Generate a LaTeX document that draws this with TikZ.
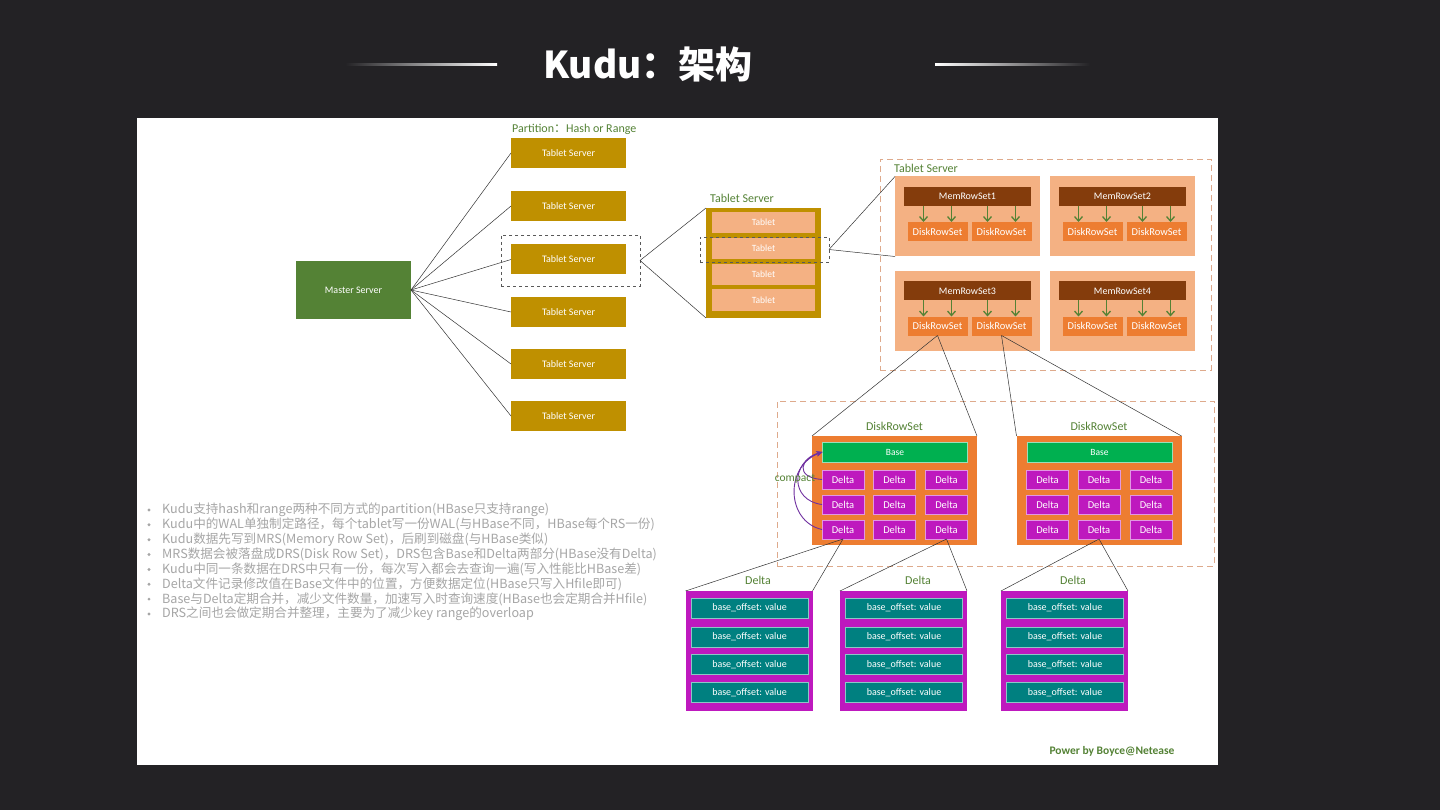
\documentclass[tikz,border=0pt]{standalone}
\usepackage{fontspec}
\setmainfont{Carlito}
\newfontfamily\cjk{Noto Sans CJK SC}
\usetikzlibrary{arrows.meta}

\definecolor{bgdark}{RGB}{35,34,37}
\definecolor{leafgreen}{RGB}{84,130,53}
\definecolor{goldbox}{RGB}{191,144,0}
\definecolor{salmon}{RGB}{244,177,131}
\definecolor{rustbar}{RGB}{132,60,12}
\definecolor{orangebox}{RGB}{237,125,49}
\definecolor{basegreen}{RGB}{0,176,80}
\definecolor{magbox}{RGB}{190,25,190}
\definecolor{tealbox}{RGB}{0,128,128}
\definecolor{arrpurple}{RGB}{112,48,160}
\definecolor{dashtan}{RGB}{222,170,140}
\definecolor{txtgray}{RGB}{166,166,166}

\begin{document}
\begin{tikzpicture}[x=1pt, y=-1pt,
  box/.style={inner sep=0pt, outer sep=0pt, align=center, text=white},
  master/.style={box, fill=leafgreen, minimum width=115pt, minimum height=58pt, font=\fontsize{10}{12}\selectfont},
  tsbox/.style={box, fill=goldbox, minimum width=115pt, minimum height=30pt, font=\fontsize{10}{12}\selectfont},
  tsframe/.style={box, fill=goldbox, minimum width=115pt, minimum height=110pt},
  tablet/.style={box, fill=salmon, minimum width=103pt, minimum height=21pt, font=\fontsize{9.5}{11}\selectfont},
  selbox/.style={draw=black!65, dashed, inner sep=0pt, outer sep=0pt},
  dashregion/.style={draw=dashtan, dash pattern=on 6pt off 4pt, inner sep=0pt, outer sep=0pt},
  rsgroup/.style={box, fill=salmon, minimum width=145pt, minimum height=80pt},
  memrow/.style={box, fill=rustbar, minimum width=127pt, minimum height=19pt, font=\fontsize{10}{12}\selectfont},
  diskbox/.style={box, fill=orangebox, minimum width=60pt, minimum height=19pt, font=\fontsize{10.5}{12}\selectfont},
  drs/.style={box, fill=orangebox, minimum width=165pt, minimum height=109pt},
  basebox/.style={box, fill=basegreen, draw=white!60!basegreen, minimum width=145pt, minimum height=20pt, font=\fontsize{9.5}{11}\selectfont},
  deltacell/.style={box, fill=magbox, draw=white!55!magbox, minimum width=42pt, minimum height=19pt, font=\fontsize{10.5}{12}\selectfont},
  deltabox/.style={box, fill=magbox, minimum width=127pt, minimum height=120pt},
  offsetrow/.style={box, fill=tealbox, draw=white!55!tealbox, minimum width=117pt, minimum height=20pt, font=\fontsize{10}{12}\selectfont},
  greentxt/.style={text=leafgreen, inner sep=0pt, font=\fontsize{12}{14}\selectfont},
  wire/.style={draw=black!80, line width=0.5pt},
  flushed/.style={draw=leafgreen, line width=1.3pt, -{Straight Barb[length=4.5pt, width=8pt]}},
  compactarr/.style={draw=arrpurple, line width=0.9pt, -{Stealth[length=6pt, width=5pt]}},
  bullet/.style={circle, fill=txtgray, inner sep=0pt, minimum size=3.2pt},
  note/.style={text=txtgray, inner sep=0pt, anchor=west, font=\cjk\fontsize{12.6}{14}\selectfont}]

\fill[bgdark] (0,0) rectangle (1440,810);
\fill[white] (137,118) rectangle (1218,765);

\shade[left color=bgdark, right color=white] (345,63.2) rectangle (497,65.4);
\shade[left color=white, right color=bgdark] (935,63.2) rectangle (1090,65.4);
\path (648,64) node[text=white, inner sep=0pt, font=\cjk\bfseries\fontsize{37}{40}\selectfont] (title) {Kudu：架构};

\path (353.5,290) node[master] (ms) {Master Server};
\path (568.5,153) node[tsbox] (ts1) {Tablet Server}
      (568.5,206) node[tsbox] (ts2) {Tablet Server}
      (568.5,259.5) node[tsbox] (ts3) {Tablet Server}
      (568.5,312) node[tsbox] (ts4) {Tablet Server}
      (568.5,364) node[tsbox] (ts5) {Tablet Server}
      (568.5,416) node[tsbox] (ts6) {Tablet Server};
\path (512,129) node[greentxt, anchor=west, font=\fontsize{12}{14}\selectfont] (part) {Partition{\cjk ：}Hash or Range};
\foreach \i in {1,...,6}
  \draw[wire] (ms.east) -- (ts\i.west);
\path (570.5,260.5) node[selbox, minimum width=139pt, minimum height=51pt] (sel1) {};

\path (763.5,263) node[tsframe] (mts) {}
      (710,198) node[greentxt, anchor=west] (mtslbl) {Tablet Server}
      (763.5,222.5) node[tablet] (tb1) {Tablet}
      (763.5,248.5) node[tablet] (tb2) {Tablet}
      (763.5,274.5) node[tablet] (tb3) {Tablet}
      (763.5,300) node[tablet] (tb4) {Tablet};
\path (764.5,249.5) node[selbox, minimum width=129pt, minimum height=25pt] (sel2) {};
\draw[wire] (sel1.east) -- (mts.north west);
\draw[wire] (sel1.east) -- (mts.south west);

\path (1045.5,264.5) node[dashregion, minimum width=331pt, minimum height=211pt] (rts) {}
      (894,168) node[greentxt, anchor=west] (rtslbl) {Tablet Server};
\foreach \n/\x/\y in {1/967.5/216.5, 2/1122.5/216.5, 3/967.5/311, 4/1122.5/311} {
  \path (\x,\y) node[rsgroup] (g\n) {}
        (\x,\y-20) node[memrow] (m\n) {MemRowSet\n}
        (\x-30,\y+15) node[diskbox] (da\n) {DiskRowSet}
        (\x+34,\y+15) node[diskbox] (db\n) {DiskRowSet};
  \foreach \s in {da,db}
    \foreach \o in {-14,14}
      \draw[flushed] ([xshift=\o pt]\s\n.north |- m\n.south) -- ([xshift=\o pt]\s\n.north);
}
\draw[wire] (sel2.east) -- (g1.north west);
\draw[wire] (sel2.east) -- (g1.south west);

\path (995.5,483.5) node[dashregion, minimum width=437pt, minimum height=165pt] (drsreg) {};
\foreach \n/\x in {1/894.5, 2/1099} {
  \path (\x,490.5) node[drs] (drs\n) {}
        (\x,426) node[greentxt] (drslbl\n) {DiskRowSet}
        (\x+0.5,452) node[basebox] (base\n) {Base};
  \foreach \r/\dy in {1/-11, 2/14, 3/39}
    \foreach \c/\dx in {1/-51.5, 2/0, 3/52}
      \path (\x+\dx,490.5+\dy) node[deltacell] (dl\n\r\c) {Delta};
}
\draw[wire] (da3.south) -- (drs1.north west);
\draw[wire] (da3.south) -- (drs1.north east);
\draw[wire] (db3.south) -- (drs2.north west);
\draw[wire] (db3.south) -- (drs2.north east);

\draw[compactarr] (dl111.west) .. controls +(-28,-2) and +(-22,6) .. (base1.west);
\draw[compactarr] (dl121.west) .. controls +(-32,-4) and +(-32,10) .. (base1.west);
\draw[compactarr] (dl131.west) .. controls +(-36,-8) and +(-38,14) .. (base1.west);
\path (795,479) node[greentxt, font=\fontsize{11.5}{13}\selectfont] (cmp) {compact};

\foreach \n/\x/\lx in {1/749/758, 2/903.5/918, 3/1064.5/1073} {
  \path (\x,651) node[deltabox] (dd\n) {}
        (\lx,580) node[greentxt] (ddlbl\n) {Delta};
  \foreach \r/\y in {1/608, 2/637, 3/664.5, 4/692.5}
    \path (\x+0.5,\y) node[offsetrow] (ofs\n\r) {base\_offset: value};
}
\draw[wire] (dl131.south) -- (dd1.north west);
\draw[wire] (dl131.south) -- (dd1.north east);
\draw[wire] (dl133.south) -- (dd2.north west);
\draw[wire] (dl133.south) -- (dd2.north east);
\draw[wire] (dl232.south) -- (dd3.north west);
\draw[wire] (dl232.south) -- (dd3.north east);

\path (149,510) node[bullet] (bu1) {} (162,510) node[note] (nt1) {Kudu支持hash和range两种不同方式的partition(HBase只支持range)}
      (149,524.8) node[bullet] (bu2) {} (162,524.8) node[note] (nt2) {Kudu中的WAL单独制定路径，每个tablet写一份WAL(与HBase不同，HBase每个RS一份)}
      (149,539.7) node[bullet] (bu3) {} (162,539.7) node[note] (nt3) {Kudu数据先写到MRS(Memory Row Set)，后刷到磁盘(与HBase类似)}
      (149,554.5) node[bullet] (bu4) {} (162,554.5) node[note] (nt4) {MRS数据会被落盘成DRS(Disk Row Set)，DRS包含Base和Delta两部分(HBase没有Delta)}
      (149,569.4) node[bullet] (bu5) {} (162,569.4) node[note] (nt5) {Kudu中同一条数据在DRS中只有一份，每次写入都会去查询一遍(写入性能比HBase差)}
      (149,584.2) node[bullet] (bu6) {} (162,584.2) node[note] (nt6) {Delta文件记录修改值在Base文件中的位置，方便数据定位(HBase只写入Hfile即可)}
      (149,599.1) node[bullet] (bu7) {} (162,599.1) node[note] (nt7) {Base与Delta定期合并，减少文件数量，加速写入时查询速度(HBase也会定期合并Hfile)}
      (149,614) node[bullet] (bu8) {} (162,614) node[note] (nt8) {DRS之间也会做定期合并整理，主要为了减少key range的overloap};

\path (1112,751) node[greentxt, font=\bfseries\fontsize{11.5}{13}\selectfont] (pwr) {Power by Boyce@Netease};
\end{tikzpicture}
\end{document}
